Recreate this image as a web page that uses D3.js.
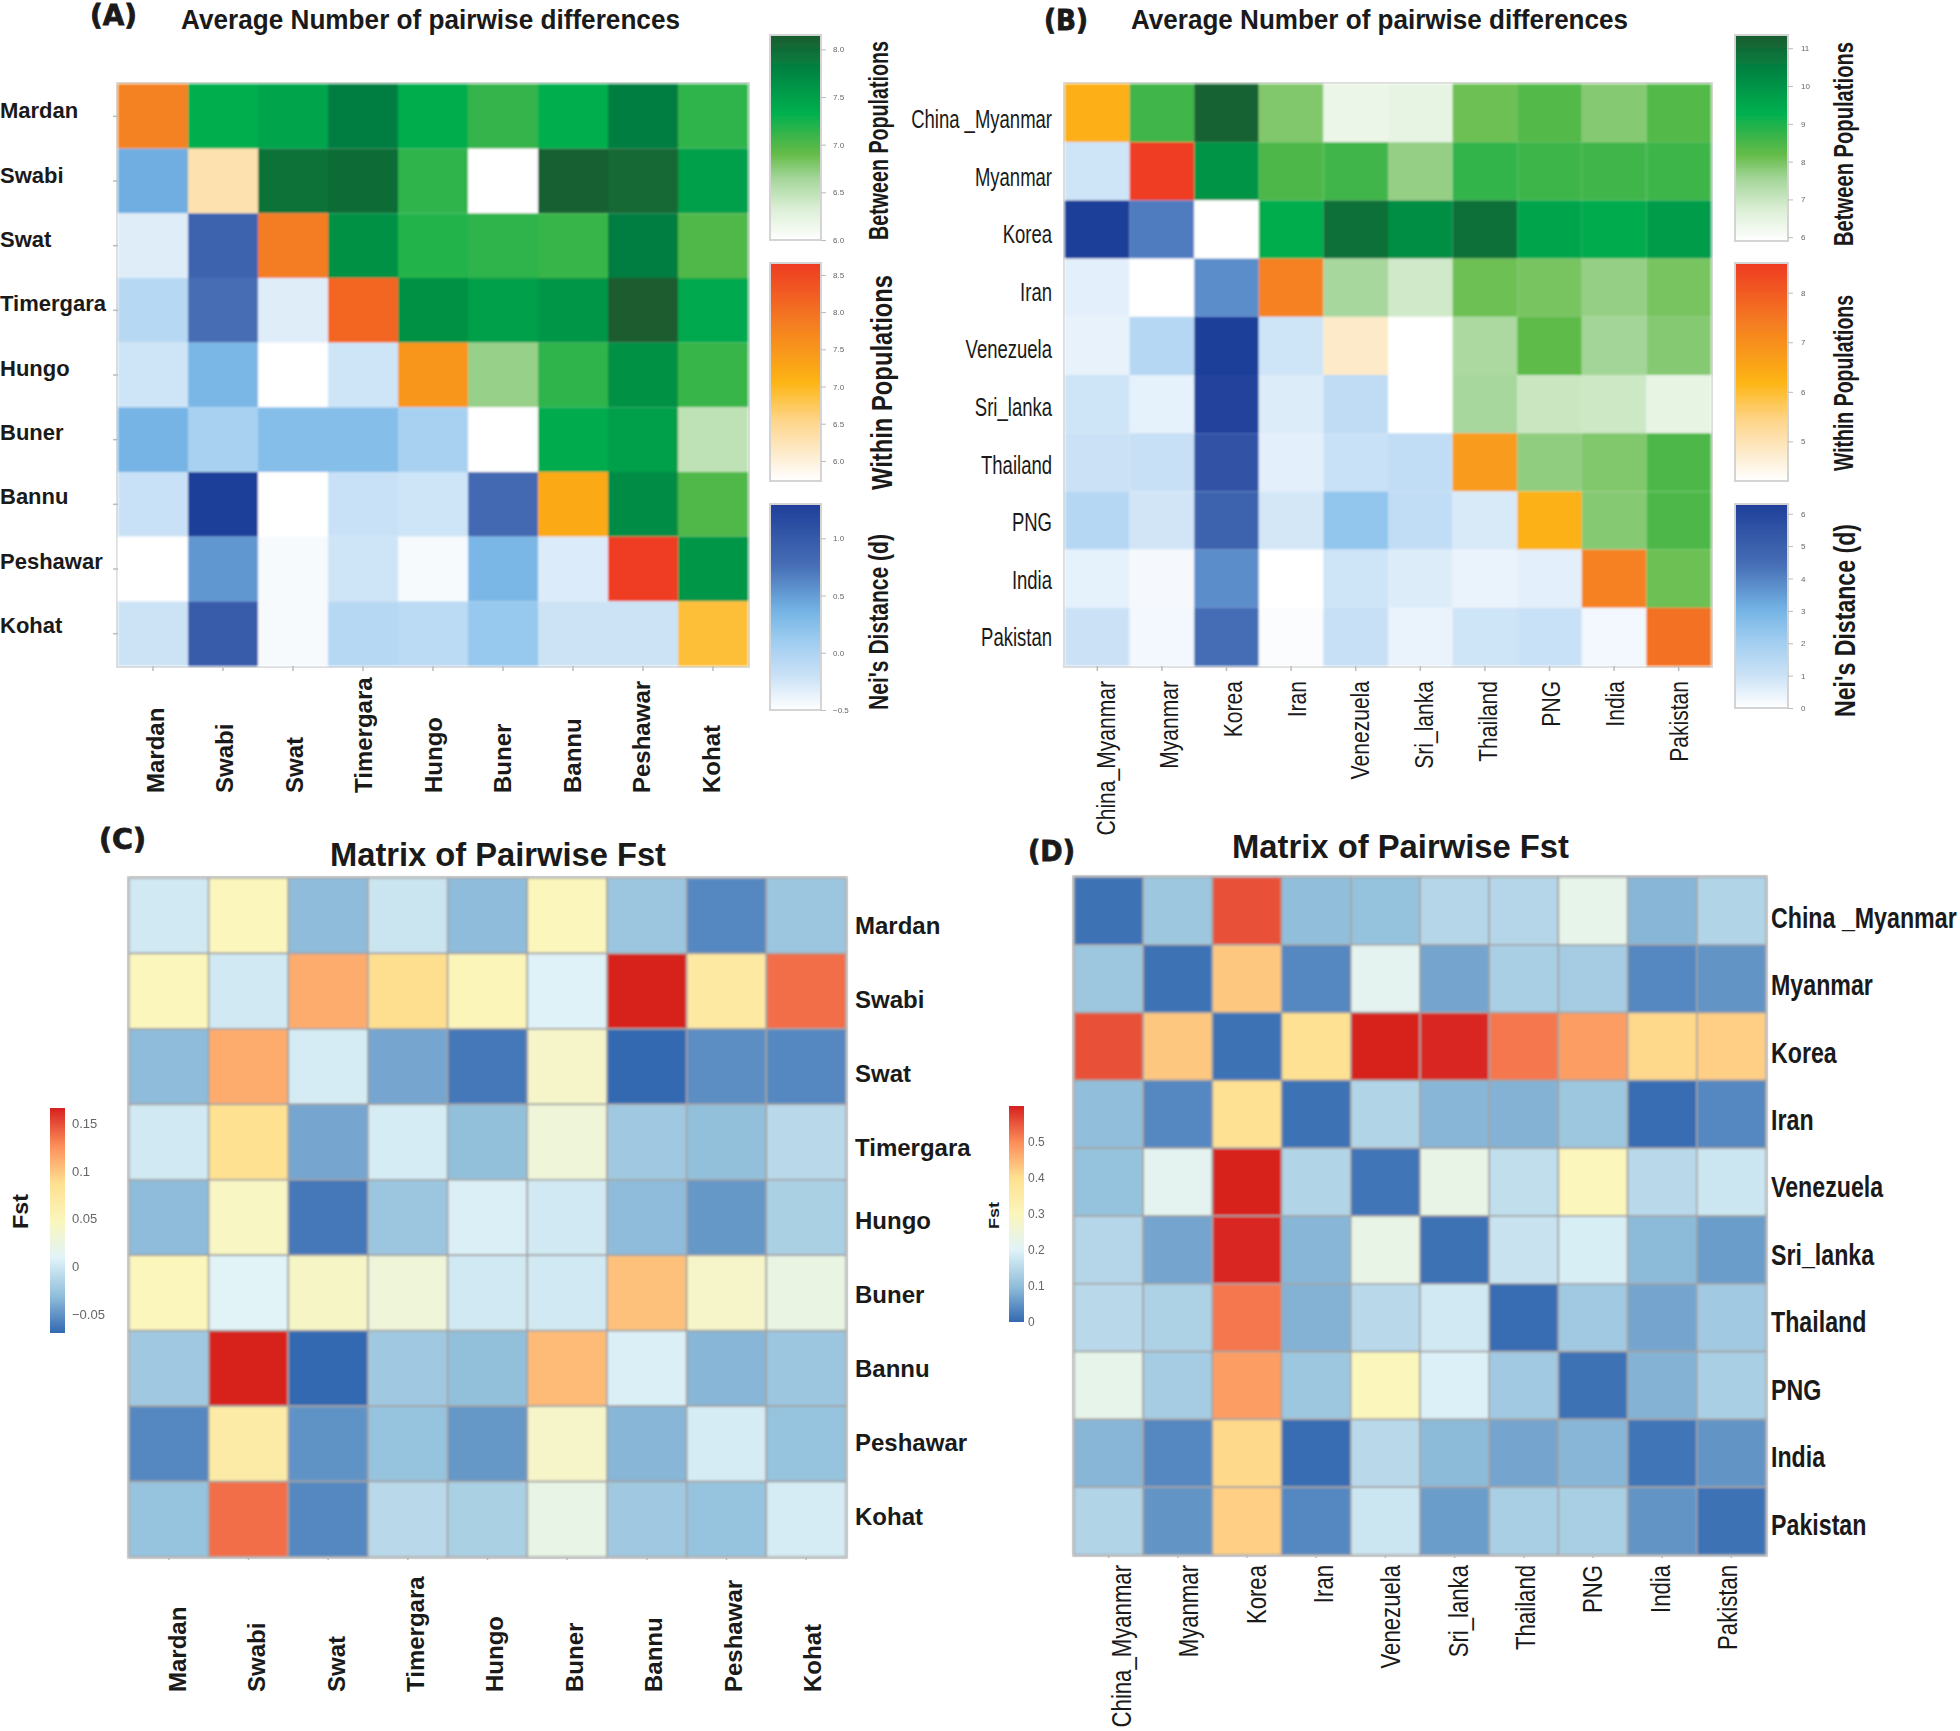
<!DOCTYPE html>
<html>
<head>
<meta charset="utf-8">
<script src="https://cdn.jsdelivr.net/npm/d3@7"></script>
<style>
  html, body { margin: 0; padding: 0; background: #fff; }
  text { fill: #1a1a1a; }
</style>
</head>
<body>
<div id="chart"></div>
<script>
const popsA = ["Mardan", "Swabi", "Swat", "Timergara", "Hungo", "Buner", "Bannu", "Peshawar", "Kohat"];
const popsB = ["China_Myanmar", "Myanmar", "Korea", "Iran", "Venezuela", "Sri_lanka", "Thailand", "PNG", "India", "Pakistan"];
const rowsB = ["China _Myanmar", "Myanmar", "Korea", "Iran", "Venezuela", "Sri_lanka", "Thailand", "PNG", "India", "Pakistan"];

// diagonal = within, above = between, below = Nei's distance
const diffA = [
  [7.78, 7.35, 7.45, 7.85, 7.36, 7.12, 7.35, 7.85, 7.15],
  [0.40, 6.30, 7.95, 8.00, 7.15, 6.00, 8.10, 8.05, 7.50],
  [-0.32, 0.89, 7.85, 7.65, 7.20, 7.15, 7.10, 7.85, 7.00],
  [-0.07, 0.78, -0.32, 8.13, 7.65, 7.50, 7.60, 8.15, 7.40],
  [-0.23, 0.33, -0.50, -0.23, 7.50, 6.70, 7.15, 7.65, 7.10],
  [0.36, 0.04, 0.26, 0.26, 0.04, 5.73, 7.38, 7.50, 6.50],
  [-0.20, 1.30, -0.50, -0.20, -0.23, 0.83, 7.20, 7.70, 7.00],
  [-0.50, 0.53, -0.45, -0.23, -0.45, 0.33, -0.30, 8.65, 7.60],
  [-0.22, 0.98, -0.45, -0.07, -0.10, 0.15, -0.22, -0.22, 6.90]
];
const diffB = [
  [6.30, 8.60, 11.20, 7.90, 6.35, 6.45, 8.10, 8.40, 7.85, 8.40],
  [0.95, 8.55, 10.00, 8.45, 8.60, 7.70, 8.75, 8.65, 8.60, 8.65],
  [6.30, 4.15, 4.20, 9.35, 10.90, 10.15, 10.90, 9.55, 9.40, 9.80],
  [0.55, 0.00, 3.80, 7.30, 7.50, 6.90, 8.10, 8.00, 7.70, 8.00],
  [0.45, 1.55, 6.30, 0.95, 4.80, 5.90, 7.45, 8.25, 7.55, 7.85],
  [0.95, 0.50, 6.20, 0.65, 1.30, 4.20, 7.50, 7.00, 6.95, 6.45],
  [1.00, 1.10, 5.50, 0.55, 1.05, 1.25, 6.75, 7.75, 7.90, 8.45],
  [1.55, 0.90, 4.85, 0.85, 2.35, 1.25, 0.75, 6.27, 7.85, 8.45],
  [0.50, 0.20, 3.80, 0.00, 0.95, 0.65, 0.40, 0.55, 7.30, 8.10],
  [1.00, 0.25, 4.50, 0.10, 1.10, 0.40, 0.95, 1.05, 0.25, 7.60]
];
const fstC = [
  [0.001, 0.048, -0.032, -0.002, -0.032, 0.048, -0.025, -0.056, -0.025],
  [0.048, 0.001, 0.112, 0.088, 0.050, 0.008, 0.166, 0.072, 0.138],
  [-0.032, 0.112, 0.003, -0.042, -0.063, 0.039, -0.070, -0.053, -0.056],
  [0.001, 0.086, -0.042, 0.003, -0.030, 0.029, -0.023, -0.030, -0.011],
  [-0.032, 0.043, -0.063, -0.025, 0.006, 0.001, -0.032, -0.049, -0.018],
  [0.048, 0.010, 0.041, 0.029, 0.001, 0.001, 0.102, 0.039, 0.022],
  [-0.023, 0.166, -0.070, -0.023, -0.030, 0.105, 0.006, -0.035, -0.025],
  [-0.056, 0.067, -0.051, -0.028, -0.049, 0.039, -0.035, 0.003, -0.028],
  [-0.028, 0.138, -0.056, -0.011, -0.018, 0.020, -0.023, -0.028, 0.003]
];
const fstD = [
  [0.010, 0.115, 0.555, 0.100, 0.105, 0.145, 0.145, 0.225, 0.090, 0.140],
  [0.115, 0.010, 0.430, 0.035, 0.215, 0.070, 0.130, 0.125, 0.035, 0.050],
  [0.555, 0.430, 0.010, 0.395, 0.600, 0.595, 0.520, 0.480, 0.410, 0.420],
  [0.100, 0.035, 0.395, 0.010, 0.140, 0.090, 0.085, 0.115, 0.005, 0.035],
  [0.105, 0.215, 0.600, 0.140, 0.015, 0.230, 0.160, 0.300, 0.150, 0.175],
  [0.145, 0.070, 0.595, 0.090, 0.230, 0.010, 0.170, 0.190, 0.095, 0.060],
  [0.150, 0.135, 0.520, 0.085, 0.150, 0.180, 0.005, 0.120, 0.070, 0.120],
  [0.225, 0.125, 0.480, 0.115, 0.300, 0.195, 0.120, 0.010, 0.085, 0.130],
  [0.090, 0.035, 0.410, 0.005, 0.150, 0.095, 0.070, 0.090, 0.015, 0.050],
  [0.140, 0.050, 0.420, 0.035, 0.175, 0.060, 0.130, 0.130, 0.050, 0.010]
];

// legend ticks
const betweenTicksA = [6, 6.5, 7, 7.5, 8];
const withinTicksA = [6, 6.5, 7, 7.5, 8, 8.5];
const neiTicksA = [-0.5, 0, 0.5, 1];
const betweenTicksB = [6, 7, 8, 9, 10, 11];
const withinTicksB = [5, 6, 7, 8];
const neiTicksB = [0, 1, 2, 3, 4, 5, 6];
const fstTicksC = [-0.05, 0, 0.05, 0.1, 0.15];
const fstTicksD = [0, 0.1, 0.2, 0.3, 0.4, 0.5];

// colour ramps, position in the domain -> colour
const betweenStops = [0, 0.15, 0.3, 0.42, 0.5, 0.62, 0.85, 1];
const betweenColors = ["#ffffff", "#dcefd6", "#a5d69a", "#64bc48", "#3fb54a", "#00b04f", "#057f40", "#1a5c2e"];
const withinStops = [0, 0.12, 0.28, 0.45, 0.7, 1];
const withinColors = ["#ffffff", "#fdeccf", "#fed588", "#fdb515", "#f58220", "#ee3b24"];
const neiStops = [0, 0.16, 0.33, 0.48, 0.7, 1];
const neiColors = ["#ffffff", "#cbe2f6", "#a0cdf0", "#74b4e5", "#476fb6", "#1f3f99"];
const fstStops = [0, 1 / 6, 2 / 6, 3 / 6, 4 / 6, 5 / 6, 1];
const fstColors = ["#3369b1", "#91bfdb", "#e0f3f8", "#fbf6bb", "#fee090", "#fc8d59", "#d7201f"];

const width = 1960, height = 1731;
const sans = "'Liberation Sans', Arial, sans-serif";

const svg = d3.select("#chart")
  .append("svg")
  .attr("width", width)
  .attr("height", height)
  .attr("viewBox", [0, 0, width, height])
  .style("display", "block");

const defs = svg.append("defs");
[["blurCell", 0.9], ["blurTick", 0.7], ["blurSmall", 0.5]].forEach(([id, s]) => {
  defs.append("filter").attr("id", id)
    .attr("x", "-5%").attr("y", "-5%").attr("width", "110%").attr("height", "110%")
    .append("feGaussianBlur").attr("stdDeviation", s);
});

function ramp(lo, hi, stops, colors) {
  return d3.scaleLinear().domain(stops.map(f => lo + f * (hi - lo))).range(colors);
}

// no narrow font here, so squeeze the glyphs to the width they have in the figure
function squeeze(sel, k) {
  if (!k) return;
  sel.each(function () {
    d3.select(this)
      .attr("textLength", this.getComputedTextLength() * k)
      .attr("lengthAdjust", "spacingAndGlyphs");
  });
}

function heatmap(p) {
  const x = d3.scaleBand().domain(d3.range(p.values.length)).range([p.x0, p.x1]);
  const y = d3.scaleBand().domain(d3.range(p.values.length)).range([p.y0, p.y1]);
  const cells = p.values.flatMap((row, i) => row.map((v, j) => ({ i, j, v })));

  svg.append("rect")
    .attr("x", p.x0 - 1).attr("y", p.y0 - 1)
    .attr("width", p.x1 - p.x0 + 2).attr("height", p.y1 - p.y0 + 2)
    .attr("fill", "none").attr("stroke", "#dcdcdc").attr("stroke-width", 2);

  svg.append("g")
    .attr("filter", "url(#blurCell)")
    .selectAll("rect")
    .data(cells)
    .join("rect")
    .attr("x", d => x(d.j))
    .attr("y", d => y(d.i))
    .attr("width", x.bandwidth())
    .attr("height", y.bandwidth())
    .attr("fill", p.color)
    .attr("stroke", p.stroke || "none")
    .attr("stroke-width", p.stroke ? 1.6 : 0);

  // tick marks, on the cells
  const xTicks = svg.append("g")
    .attr("transform", `translate(0,${p.y1})`)
    .call(d3.axisBottom(x).tickSize(p.tick).tickSizeOuter(0).tickFormat(""));
  xTicks.select(".domain").remove();
  xTicks.selectAll("line").attr("stroke", "#bbb").attr("stroke-width", 1.5);
  if (p.leftTicks) {
    const yTicks = svg.append("g")
      .attr("transform", `translate(${p.x0},0)`)
      .call(d3.axisLeft(y).tickSize(p.tick).tickSizeOuter(0).tickFormat(""));
    yTicks.select(".domain").remove();
    yTicks.selectAll("line").attr("stroke", "#bbb").attr("stroke-width", 1.5);
  }

  // labels sit on their own, slightly different spacing
  const rowPos = d3.scalePoint().domain(p.rows).range(p.rowRange);
  const colPos = d3.scalePoint().domain(p.cols).range(p.colRange);

  const rowAxis = svg.append("g")
    .attr("transform", `translate(${p.rowX},0)`)
    .call((p.rowAnchor === "end" ? d3.axisLeft(rowPos) : d3.axisRight(rowPos)).tickSize(0).tickSizeOuter(0));
  rowAxis.select(".domain").remove();
  rowAxis.selectAll("text")
    .attr("x", 0).attr("dy", "0.35em")
    .attr("text-anchor", p.rowAnchor)
    .style("font", p.rowFont)
    .call(squeeze, p.rowSqueeze);

  const colAxis = svg.append("g")
    .attr("transform", `translate(0,${p.colY})`)
    .call(d3.axisBottom(colPos).tickSize(0).tickSizeOuter(0));
  colAxis.select(".domain").remove();
  colAxis.selectAll("text")
    .attr("x", 0).attr("y", 0).attr("dy", "0.35em")
    .attr("transform", "rotate(-90)")
    .attr("text-anchor", p.colAnchor)
    .style("font", p.colFont)
    .call(squeeze, p.colSqueeze);
}

let gradId = 0;
function legend(l) {
  const id = "grad" + (gradId++);
  const grad = defs.append("linearGradient").attr("id", id)
    .attr("x1", 0).attr("y1", 1).attr("x2", 0).attr("y2", 0);
  l.stops.forEach((f, i) => grad.append("stop").attr("offset", f).attr("stop-color", l.colors[i]));

  const scale = d3.scaleLinear().domain(l.domain).range([l.y1, l.y0]);

  svg.append("rect")
    .attr("x", l.x).attr("y", l.y0)
    .attr("width", l.w).attr("height", l.y1 - l.y0)
    .attr("fill", `url(#${id})`)
    .attr("stroke", l.frame || "none")
    .attr("stroke-width", l.frame ? 2 : 0)
    .attr("filter", "url(#blurSmall)");

  const g = svg.append("g")
    .attr("transform", `translate(${l.x + l.w},0)`)
    .call(d3.axisRight(scale).tickSize(l.tick || 0).tickPadding(l.pad)
      .tickValues(l.ticks).tickSizeOuter(0).tickFormat(l.format));
  g.select(".domain").remove();
  g.selectAll("line").attr("stroke", "#bbb");
  g.selectAll("text")
    .attr("filter", "url(#blurTick)")
    .style("fill", "#666")
    .style("font", l.font);

  svg.append("text")
    .attr("transform", `translate(${l.titleX},${l.titleY}) rotate(-90)`)
    .attr("dy", "0.35em")
    .attr("textLength", l.titleLen)
    .attr("lengthAdjust", "spacingAndGlyphs")
    .style("font", l.titleFont)
    .text(l.title);
}

function title(t, x, y, len, font, heavy) {
  svg.append("text").attr("x", x).attr("y", y)
    .attr("textLength", len).attr("lengthAdjust", "spacingAndGlyphs")
    .attr("stroke", heavy ? "#1a1a1a" : "none").attr("stroke-width", heavy ? 0.8 : 0)
    .style("font", font).text(t);
}

// (A)
const betweenA = ramp(6, 8.15, betweenStops, betweenColors);
const withinA = ramp(5.73, 8.66, withinStops, withinColors);
const neiA = ramp(-0.5, 1.3, neiStops, neiColors);
const colorA = d => d.i === d.j ? withinA(d.v) : (d.i < d.j ? betweenA(d.v) : neiA(d.v));
heatmap({
  values: diffA, color: colorA, x0: 118, x1: 748, y0: 84, y1: 666, tick: 5, leftTicks: true,
  rows: popsA, cols: popsA, rowRange: [110, 625], colRange: [155, 711],
  rowX: 0, rowAnchor: "start", rowFont: `bold 22px ${sans}`,
  colY: 793, colAnchor: "start", colFont: `bold 24px ${sans}`
});

// (B)
const betweenB = ramp(5.9, 11.35, betweenStops, betweenColors);
const withinB = ramp(4.2, 8.6, withinStops, withinColors);
const neiB = ramp(0, 6.3, neiStops, neiColors);
const colorB = d => d.i === d.j ? withinB(d.v) : (d.i < d.j ? betweenB(d.v) : neiB(d.v));
heatmap({
  values: diffB, color: colorB, x0: 1065, x1: 1711, y0: 84, y1: 666, tick: 5, leftTicks: false,
  rows: rowsB, cols: popsB, rowRange: [119, 637], colRange: [1105, 1678],
  rowX: 1052, rowAnchor: "end", rowFont: `500 25px ${sans}`, rowSqueeze: 0.74,
  colY: 681, colAnchor: "end", colFont: `26px ${sans}`, colSqueeze: 0.81
});

// (C)
const colorC = ramp(-0.07, 0.166, fstStops, fstColors);
heatmap({
  values: fstC, color: d => colorC(d.v), stroke: "#a3a3a3", x0: 129, x1: 846, y0: 878, y1: 1557, tick: 3, leftTicks: false,
  rows: popsA, cols: popsA, rowRange: [925, 1516], colRange: [177, 812],
  rowX: 855, rowAnchor: "start", rowFont: `bold 24px ${sans}`,
  colY: 1692, colAnchor: "start", colFont: `bold 24px ${sans}`
});

// (D)
const colorD = ramp(0, 0.6, fstStops, fstColors);
heatmap({
  values: fstD, color: d => colorD(d.v), stroke: "#a3a3a3", x0: 1074, x1: 1766, y0: 877, y1: 1555, tick: 3, leftTicks: false,
  rows: rowsB, cols: popsB, rowRange: [917, 1524], colRange: [1121, 1727],
  rowX: 1771, rowAnchor: "start", rowFont: `bold 29px ${sans}`, rowSqueeze: 0.8,
  colY: 1565, colAnchor: "end", colFont: `27px ${sans}`, colSqueeze: 0.82
});

const smallA = `8px ${sans}`;
const boldTitle = `bold 27px ${sans}`;
const oneDec = d3.format(".1f");

legend({ x: 770, w: 51, y0: 35, y1: 240, domain: [6, 8.15], stops: betweenStops, colors: betweenColors, frame: "#d4d4d4",
  ticks: betweenTicksA, tick: 5, pad: 7, format: oneDec, font: smallA,
  title: "Between Populations", titleX: 879, titleY: 240, titleLen: 199, titleFont: boldTitle });
legend({ x: 770, w: 51, y0: 263, y1: 481, domain: [5.73, 8.66], stops: withinStops, colors: withinColors, frame: "#d4d4d4",
  ticks: withinTicksA, tick: 5, pad: 7, format: oneDec, font: smallA,
  title: "Within Populations", titleX: 881, titleY: 490, titleLen: 215, titleFont: `bold 30px ${sans}` });
legend({ x: 770, w: 51, y0: 504, y1: 710, domain: [-0.5, 1.3], stops: neiStops, colors: neiColors, frame: "#d4d4d4",
  ticks: neiTicksA, tick: 5, pad: 7, format: oneDec, font: smallA,
  title: "Nei's Distance (d)", titleX: 879, titleY: 710, titleLen: 176, titleFont: boldTitle });

legend({ x: 1735, w: 53, y0: 35, y1: 241, domain: [5.9, 11.35], stops: betweenStops, colors: betweenColors, frame: "#d4d4d4",
  ticks: betweenTicksB, tick: 5, pad: 8, format: d3.format("d"), font: smallA,
  title: "Between Populations", titleX: 1844, titleY: 246, titleLen: 204, titleFont: boldTitle });
legend({ x: 1735, w: 53, y0: 263, y1: 481, domain: [4.2, 8.6], stops: withinStops, colors: withinColors, frame: "#d4d4d4",
  ticks: withinTicksB, tick: 5, pad: 8, format: d3.format("d"), font: smallA,
  title: "Within Populations", titleX: 1844, titleY: 471, titleLen: 176, titleFont: boldTitle });
legend({ x: 1735, w: 53, y0: 504, y1: 708, domain: [0, 6.3], stops: neiStops, colors: neiColors, frame: "#d4d4d4",
  ticks: neiTicksB, tick: 5, pad: 8, format: d3.format("d"), font: smallA,
  title: "Nei's Distance (d)", titleX: 1845, titleY: 717, titleLen: 193, titleFont: `bold 29px ${sans}` });

legend({ x: 50, w: 15, y0: 1108, y1: 1333, domain: [-0.07, 0.166], stops: fstStops, colors: fstColors,
  ticks: fstTicksC, pad: 7, format: d => d3.format("")(d), font: `13px ${sans}`,
  title: "Fst", titleX: 20, titleY: 1229, titleLen: 35, titleFont: `bold 22px ${sans}` });
legend({ x: 1009, w: 15, y0: 1106, y1: 1322, domain: [0, 0.6], stops: fstStops, colors: fstColors,
  ticks: fstTicksD, pad: 4, format: d => d3.format("")(d), font: `12px ${sans}`,
  title: "Fst", titleX: 994, titleY: 1229, titleLen: 27, titleFont: `bold 14px ${sans}` });

// panel letters and titles
const letterFont = "bold 28px 'DejaVu Sans', sans-serif";
title("(A)", 90, 25, 47, letterFont, true);
title("(B)", 1044, 30, 44, letterFont, true);
title("(C)", 99, 849, 47, letterFont, true);
title("(D)", 1028, 861, 47, letterFont, true);
title("Average Number of pairwise differences", 181, 29, 499, `bold 28px ${sans}`);
title("Average Number of pairwise differences", 1131, 29, 497, `bold 28px ${sans}`);
title("Matrix of Pairwise Fst", 330, 866, 336, `bold 33px ${sans}`);
title("Matrix of Pairwise Fst", 1232, 858, 337, `bold 33px ${sans}`);
</script>
</body>
</html>
